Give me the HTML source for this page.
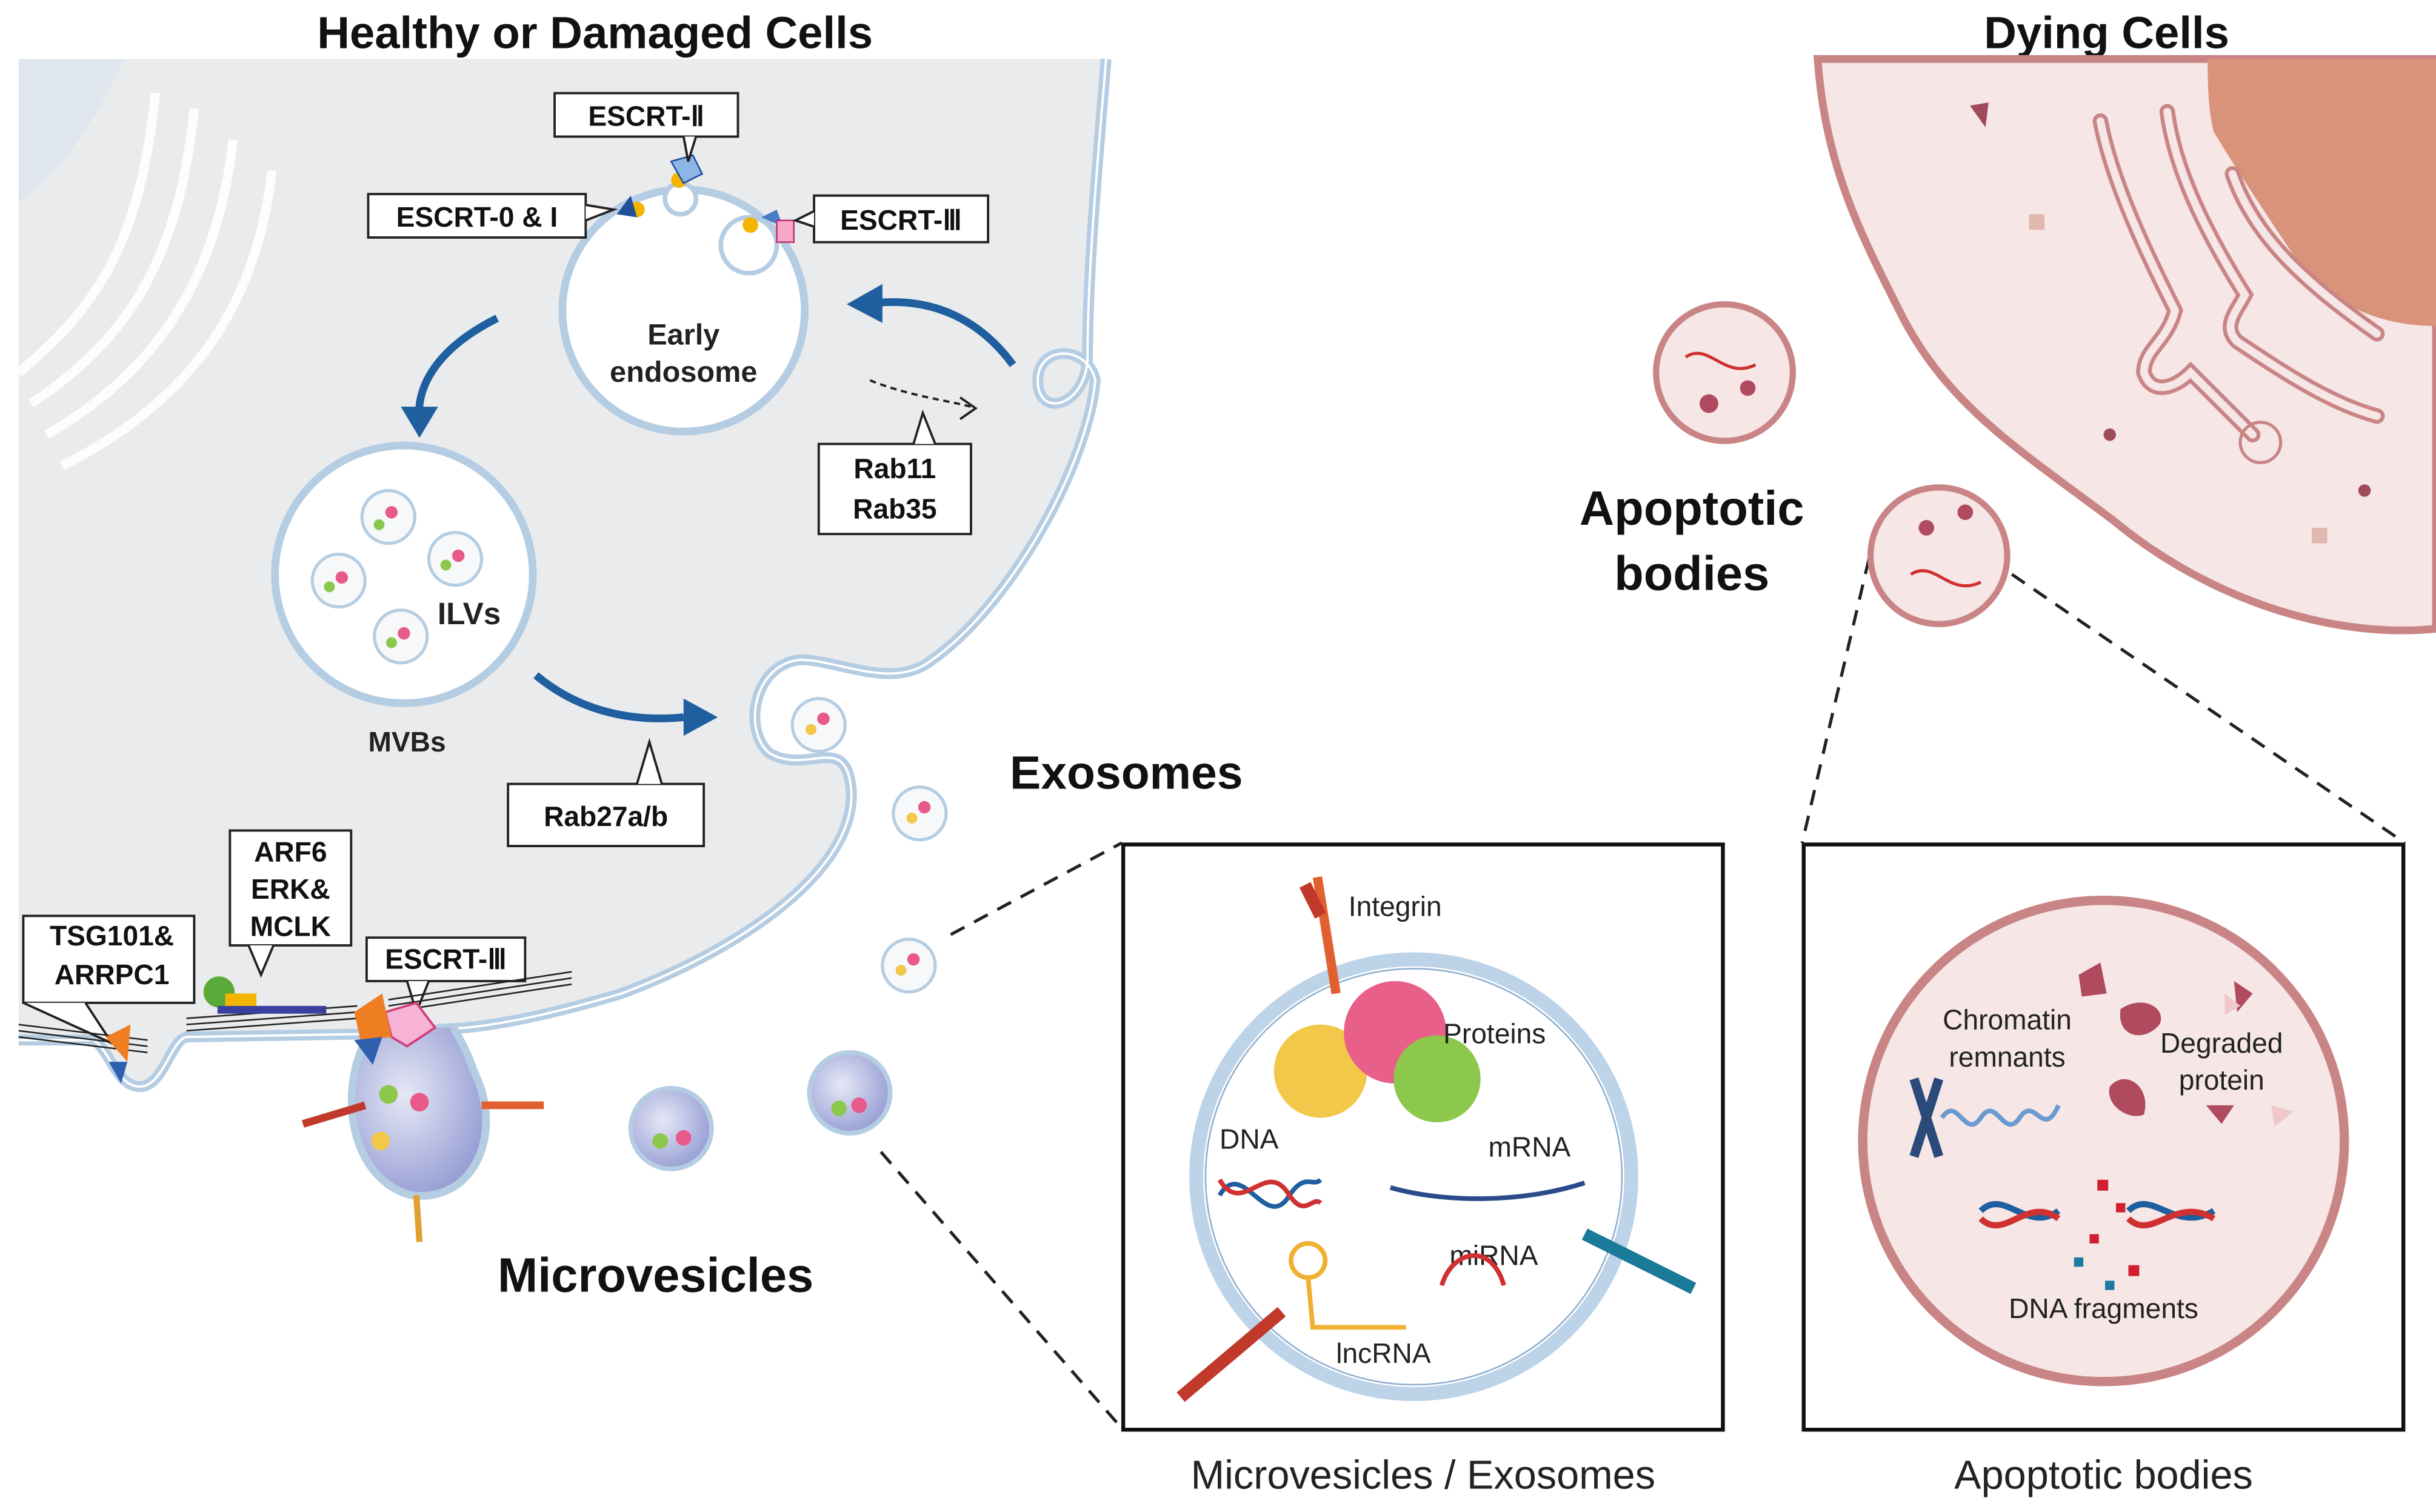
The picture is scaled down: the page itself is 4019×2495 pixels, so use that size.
<!DOCTYPE html>
<html><head><meta charset="utf-8"><style>
html,body{margin:0;padding:0;background:#fff;}
svg{display:block;}
text{font-family:"Liberation Sans",Arial,sans-serif;}
</style></head><body>
<svg width="4019" height="2495" viewBox="0 0 1568 974" preserveAspectRatio="none" xmlns="http://www.w3.org/2000/svg">
<defs>
<radialGradient id="mv" cx="0.4" cy="0.4" r="0.7"><stop offset="0" stop-color="#e6e8f6"/><stop offset="1" stop-color="#8e96d0"/></radialGradient>
</defs>
<rect width="1568" height="974" fill="#fff"/>
<!-- titles -->
<text x="383" y="31" font-size="29" font-weight="bold" text-anchor="middle" fill="#111">Healthy or Damaged Cells</text>
<text x="1356" y="31" font-size="29" font-weight="bold" text-anchor="middle" fill="#111">Dying Cells</text>

<!-- left cell -->
<path d="M12,38 L712,38 C705,120 700,180 700,232 C698,262 668,270 668,245 C668,222 700,222 705,245 C700,300 650,390 600,425 C575,445 540,425 515,425 C485,428 478,470 495,485 C520,500 545,470 548,510 C550,560 480,610 400,640 C350,655 320,660 300,662 L240,666 L120,668 C110,670 105,700 90,700 C75,700 70,675 60,670 L12,670 Z" fill="#eaebec"/>
<path d="M712,38 C705,120 700,180 700,232 C698,262 668,270 668,245 C668,222 700,222 705,245 C700,300 650,390 600,425 C575,445 540,425 515,425 C485,428 478,470 495,485 C520,500 545,470 548,510 C550,560 480,610 400,640 C350,655 320,660 300,662 L240,666 L120,668 C110,670 105,700 90,700 C75,700 70,675 60,670 L12,670" fill="none" stroke="#b5cde2" stroke-width="7"/>
<path d="M712,38 C705,120 700,180 700,232 C698,262 668,270 668,245 C668,222 700,222 705,245 C700,300 650,390 600,425 C575,445 540,425 515,425 C485,428 478,470 495,485 C520,500 545,470 548,510 C550,560 480,610 400,640 C350,655 320,660 300,662 L240,666 L120,668 C110,670 105,700 90,700 C75,700 70,675 60,670 L12,670" fill="none" stroke="#fff" stroke-width="1.5"/>
<!-- golgi-ish -->
<g fill="none" stroke="#fff" stroke-width="6" opacity="0.9">
<path d="M12,240 C60,200 90,160 100,60"/>
<path d="M20,260 C80,220 115,170 125,70"/>
<path d="M30,280 C100,240 140,180 150,90"/>
<path d="M40,300 C120,260 165,200 175,110"/>
</g>
<path d="M12,38 L80,38 C60,80 40,110 12,130 Z" fill="#dfe6ee"/>

<!-- early endosome -->
<circle cx="440" cy="200" r="78" fill="#fff" stroke="#b5cde2" stroke-width="5"/>
<circle cx="482" cy="158" r="18" fill="#fff" stroke="#b5cde2" stroke-width="3"/>
<circle cx="438" cy="128" r="10" fill="#fff" stroke="#b5cde2" stroke-width="3"/>
<circle cx="410" cy="135" r="5" fill="#f4b400"/>
<path d="M397,138 L406,126 L410,140 Z" fill="#1f4e9a"/>
<circle cx="437" cy="116" r="5" fill="#f4b400"/>
<path d="M432,104 L446,100 L452,112 L440,118 Z" fill="#8bb6e6" stroke="#1f4e9a" stroke-width="1"/>
<circle cx="483" cy="145" r="5" fill="#f4b400"/>
<path d="M490,140 L500,135 L504,146 Z" fill="#4b7cc8"/>
<rect x="500" y="142" width="11" height="14" fill="#f6a8c8" stroke="#c43070" stroke-width="1"/>
<text x="440" y="222" font-size="19" font-weight="bold" text-anchor="middle" fill="#222">Early</text>
<text x="440" y="246" font-size="19" font-weight="bold" text-anchor="middle" fill="#222">endosome</text>

<!-- callout boxes -->
<g font-size="18" font-weight="bold" fill="#111">
<rect x="357" y="60" width="118" height="28" fill="#fff" stroke="#222" stroke-width="1.5"/>
<text x="416" y="81" text-anchor="middle">ESCRT-Ⅱ</text>
<path d="M440,88 L443,104 L448,88" fill="#fff" stroke="#222" stroke-width="1.5"/>
<rect x="237" y="125" width="140" height="28" fill="#fff" stroke="#222" stroke-width="1.5"/>
<text x="307" y="146" text-anchor="middle">ESCRT-0 &amp; I</text>
<path d="M377,132 L395,135 L377,142" fill="#fff" stroke="#222" stroke-width="1.5"/>
<rect x="524" y="126" width="112" height="30" fill="#fff" stroke="#222" stroke-width="1.5"/>
<text x="580" y="148" text-anchor="middle">ESCRT-Ⅲ</text>
<path d="M524,136 L512,142 L524,146" fill="#fff" stroke="#222" stroke-width="1.5"/>
<rect x="527" y="286" width="98" height="58" fill="#fff" stroke="#222" stroke-width="1.5"/>
<text x="576" y="308" text-anchor="middle">Rab11</text>
<text x="576" y="334" text-anchor="middle">Rab35</text>
<path d="M588,286 L594,266 L602,286" fill="#fff" stroke="#222" stroke-width="1.5"/>
<rect x="327" y="505" width="126" height="40" fill="#fff" stroke="#222" stroke-width="1.5"/>
<text x="390" y="532" text-anchor="middle">Rab27a/b</text>
<path d="M410,505 L418,478 L426,505" fill="#fff" stroke="#222" stroke-width="1.5"/>
<rect x="148" y="535" width="78" height="74" fill="#fff" stroke="#222" stroke-width="1.5"/>
<text x="187" y="555" text-anchor="middle">ARF6</text>
<text x="187" y="579" text-anchor="middle">ERK&amp;</text>
<text x="187" y="603" text-anchor="middle">MCLK</text>
<path d="M160,609 L168,628 L176,609" fill="#fff" stroke="#222" stroke-width="1.5"/>
<rect x="15" y="590" width="110" height="56" fill="#fff" stroke="#222" stroke-width="1.5"/>
<text x="72" y="609" text-anchor="middle">TSG101&amp;</text>
<text x="72" y="634" text-anchor="middle">ARRPC1</text>
<path d="M15,646 L72,672 L55,646" fill="#fff" stroke="#222" stroke-width="1.5"/>
<rect x="236" y="604" width="102" height="28" fill="#fff" stroke="#222" stroke-width="1.5"/>
<text x="287" y="624" text-anchor="middle">ESCRT-Ⅲ</text>
<path d="M262,632 L268,652 L276,632" fill="#fff" stroke="#222" stroke-width="1.5"/>
</g>

<!-- arrows -->
<path d="M320,205 C280,225 268,250 270,270" fill="none" stroke="#1f5fa0" stroke-width="5"/>
<path d="M258,262 L282,262 L270,282 Z" fill="#1f5fa0"/>
<path d="M652,235 C630,205 600,192 565,195" fill="none" stroke="#1f5fa0" stroke-width="5"/>
<path d="M568,183 L545,196 L568,208 Z" fill="#1f5fa0"/>
<path d="M345,435 C375,460 410,465 440,462" fill="none" stroke="#1f5fa0" stroke-width="5"/>
<path d="M440,450 L462,462 L440,474 Z" fill="#1f5fa0"/>
<path d="M560,245 C585,255 610,258 625,262" fill="none" stroke="#222" stroke-width="1.5" stroke-dasharray="4,3"/>
<path d="M618,256 L628,263 L618,270" fill="none" stroke="#222" stroke-width="1.5"/>

<!-- MVB -->
<circle cx="260" cy="370" r="83" fill="#fff" stroke="#b5cde2" stroke-width="5"/>
<g fill="#f6f8fa" stroke="#b5cde2" stroke-width="2">
<circle cx="250" cy="333" r="17"/><circle cx="218" cy="374" r="17"/><circle cx="293" cy="360" r="17"/><circle cx="258" cy="410" r="17"/>
</g>
<g fill="#e85a8a"><circle cx="252" cy="330" r="4"/><circle cx="220" cy="372" r="4"/><circle cx="295" cy="358" r="4"/><circle cx="260" cy="408" r="4"/></g>
<g fill="#8cc84b"><circle cx="244" cy="338" r="3.5"/><circle cx="212" cy="378" r="3.5"/><circle cx="287" cy="364" r="3.5"/><circle cx="252" cy="414" r="3.5"/></g>
<text x="302" y="402" font-size="20" font-weight="bold" text-anchor="middle" fill="#222">ILVs</text>
<text x="262" y="484" font-size="18" font-weight="bold" text-anchor="middle" fill="#222">MVBs</text>

<!-- exosomes -->
<g stroke="#b5cde2" stroke-width="2" fill="#f6f8fa">
<circle cx="527" cy="467" r="17"/><circle cx="592" cy="524" r="17"/><circle cx="585" cy="622" r="17"/>
</g>
<g fill="#e85a8a"><circle cx="530" cy="463" r="4"/><circle cx="595" cy="520" r="4"/><circle cx="588" cy="618" r="4"/></g>
<g fill="#f2c84b"><circle cx="522" cy="470" r="3.5"/><circle cx="587" cy="527" r="3.5"/><circle cx="580" cy="625" r="3.5"/></g>
<text x="725" y="508" font-size="30" font-weight="bold" text-anchor="middle" fill="#111">Exosomes</text>

<!-- membrane hatch -->
<g stroke="#222" stroke-width="1">
<path d="M12,660 L95,670 M12,664 L95,674 M12,668 L95,678"/>
<path d="M120,656 L230,648 M120,660 L230,652 M120,664 L230,656"/>
<path d="M250,644 L368,626 M250,648 L368,630 M250,652 L368,634"/>
</g>
<!-- MV bud -->
<path d="M240,662 C215,700 225,760 265,770 C305,775 325,730 305,690 C300,675 295,668 292,662" fill="url(#mv)" stroke="#b5cde2" stroke-width="5"/>
<path d="M248,652 L268,646 L280,662 L262,674 L252,668 Z" fill="#f6b3d6" stroke="#d0407a" stroke-width="1.5"/>
<path d="M228,652 L246,640 L252,668 L232,670 Z" fill="#ef7d22"/>
<path d="M228,670 L246,668 L240,686 Z" fill="#2f5fae"/>
<path d="M68,668 L84,660 L82,684 Z" fill="#ef7d22"/><path d="M70,684 L82,684 L78,698 Z" fill="#2f5fae"/>
<circle cx="141" cy="639" r="10" fill="#5aaa3a"/>
<rect x="145" y="640" width="20" height="10" fill="#f4b400"/>
<rect x="140" y="648" width="70" height="5" fill="#3a3fa0"/>
<circle cx="270" cy="710" r="6" fill="#e85a8a"/><circle cx="250" cy="705" r="6" fill="#8cc84b"/><circle cx="245" cy="735" r="6" fill="#f2c84b"/>
<path d="M195,724 L235,712" stroke="#c0392b" stroke-width="5"/>
<path d="M310,712 L350,712" stroke="#e06030" stroke-width="5"/>
<path d="M268,770 L270,800" stroke="#e0a030" stroke-width="4"/>

<!-- microvesicles -->
<circle cx="432" cy="727" r="26" fill="url(#mv)" stroke="#b5cde2" stroke-width="3"/>
<circle cx="547" cy="704" r="26" fill="url(#mv)" stroke="#b5cde2" stroke-width="3"/>
<circle cx="440" cy="733" r="5" fill="#e85a8a"/><circle cx="425" cy="735" r="5" fill="#8cc84b"/>
<circle cx="553" cy="712" r="5" fill="#e85a8a"/><circle cx="540" cy="714" r="5" fill="#8cc84b"/>
<text x="422" y="832" font-size="31" font-weight="bold" text-anchor="middle" fill="#111">Microvesicles</text>

<!-- dashed connectors -->
<g stroke="#222" stroke-width="2" stroke-dasharray="10,7" fill="none">
<path d="M612,602 L722,543"/>
<path d="M567,742 L722,920"/>
<path d="M1203,360 L1160,543"/>
<path d="M1295,370 L1548,543"/>
</g>

<!-- dying cell -->
<path d="M1170,38 L1568,38 L1568,405 C1500,412 1420,385 1360,335 C1300,290 1255,262 1225,205 C1200,155 1175,110 1170,38 Z" fill="#f6e6e6" stroke="#c98585" stroke-width="5"/>
<path d="M1421,38 L1568,38 L1568,210 C1530,210 1500,195 1480,170 C1460,140 1440,110 1425,85 C1421,70 1421,50 1421,38 Z" fill="#d9937a"/>
<g fill="none" stroke-linecap="round">
<g stroke="#c98585" stroke-width="10">
<path d="M1352,78 C1360,120 1385,170 1400,200 C1395,220 1380,225 1380,240 C1385,255 1400,250 1410,240 C1430,260 1440,270 1450,280"/>
<path d="M1395,72 C1400,110 1420,150 1445,190 C1440,200 1430,210 1440,220 C1470,240 1500,260 1530,268"/>
<path d="M1437,112 C1450,150 1480,180 1530,215"/>
</g>
<g stroke="#f6e6e6" stroke-width="5">
<path d="M1352,78 C1360,120 1385,170 1400,200 C1395,220 1380,225 1380,240 C1385,255 1400,250 1410,240 C1430,260 1440,270 1450,280"/>
<path d="M1395,72 C1400,110 1420,150 1445,190 C1440,200 1430,210 1440,220 C1470,240 1500,260 1530,268"/>
<path d="M1437,112 C1450,150 1480,180 1530,215"/>
</g>
</g>
<circle cx="1455" cy="285" r="13" fill="none" stroke="#c98585" stroke-width="2"/>
<path d="M1268,68 L1280,66 L1278,82 Z" fill="#a04a5a"/>
<rect x="1306" y="138" width="10" height="10" fill="#e0b8b0"/>
<rect x="1488" y="340" width="10" height="10" fill="#e0b8b0"/>
<circle cx="1358" cy="280" r="4" fill="#a04a5a"/><circle cx="1522" cy="316" r="4" fill="#a04a5a"/>

<circle cx="1110" cy="240" r="44" fill="#f6e6e6" stroke="#c98585" stroke-width="4"/>
<circle cx="1248" cy="358" r="44" fill="#f6e6e6" stroke="#c98585" stroke-width="4"/>
<g fill="#b04a5e"><circle cx="1100" cy="260" r="6"/><circle cx="1125" cy="250" r="5"/><circle cx="1240" cy="340" r="5"/><circle cx="1265" cy="330" r="5"/></g>
<path d="M1085,230 C1100,220 1110,245 1130,235" stroke="#d03030" stroke-width="2" fill="none"/>
<path d="M1230,370 C1245,360 1255,385 1275,375" stroke="#d03030" stroke-width="2" fill="none"/>
<text x="1089" y="338" font-size="31" font-weight="bold" text-anchor="middle" fill="#111">Apoptotic</text>
<text x="1089" y="380" font-size="31" font-weight="bold" text-anchor="middle" fill="#111">bodies</text>

<!-- MV/Exo box -->
<rect x="723" y="544" width="386" height="377" fill="#fff" stroke="#111" stroke-width="2.5"/>
<circle cx="910" cy="758" r="140" fill="#fff" stroke="#bcd3e8" stroke-width="9"/>
<circle cx="910" cy="758" r="134" fill="none" stroke="#8fb0d0" stroke-width="1"/>
<circle cx="850" cy="690" r="30" fill="#f2c84b"/>
<circle cx="898" cy="665" r="33" fill="#e8608a"/>
<circle cx="925" cy="695" r="28" fill="#8cc84b"/>
<path d="M848,565 L860,640" stroke="#e06030" stroke-width="6"/>
<path d="M840,570 L850,590" stroke="#c0392b" stroke-width="8"/>
<text x="868" y="590" font-size="18" fill="#222">Integrin</text>
<text x="929" y="672" font-size="18" fill="#222">Proteins</text>
<text x="785" y="740" font-size="18" fill="#222">DNA</text>
<path d="M785,770 C800,745 815,795 830,770 C840,755 845,765 850,760" stroke="#1f5fa0" stroke-width="3" fill="none"/>
<path d="M785,760 C800,785 815,745 830,770 C840,785 845,770 850,775" stroke="#d03030" stroke-width="3" fill="none"/>
<text x="958" y="745" font-size="18" fill="#222">mRNA</text>
<path d="M895,765 C930,775 980,775 1020,762" stroke="#2a4a8a" stroke-width="3" fill="none"/>
<text x="933" y="815" font-size="18" fill="#222">miRNA</text>
<path d="M928,828 C935,805 960,800 968,828" stroke="#d03030" stroke-width="3" fill="none"/>
<circle cx="842" cy="812" r="11" fill="none" stroke="#f0b030" stroke-width="3"/>
<path d="M842,823 L845,855 L905,855" stroke="#f0b030" stroke-width="3" fill="none"/>
<text x="860" y="878" font-size="18" fill="#222">lncRNA</text>
<path d="M760,900 L825,845" stroke="#c0392b" stroke-width="8"/>
<path d="M1020,795 L1090,830" stroke="#1a7a9a" stroke-width="8"/>
<text x="916" y="959" font-size="26" text-anchor="middle" fill="#222">Microvesicles / Exosomes</text>

<!-- Apoptotic box -->
<rect x="1161" y="544" width="386" height="377" fill="#fff" stroke="#111" stroke-width="2.5"/>
<circle cx="1354" cy="735" r="155" fill="#f6e6e6" stroke="#c98585" stroke-width="6"/>
<g fill="#b04a5e">
<path d="M1338,628 L1352,620 L1356,640 L1340,642 Z"/>
<path d="M1365,650 C1380,640 1395,650 1390,660 C1380,672 1362,668 1365,650 Z"/>
<path d="M1438,632 L1450,640 L1440,652 Z"/>
<path d="M1358,700 C1368,688 1385,700 1380,718 C1370,722 1355,712 1358,700 Z"/>
<path d="M1420,712 L1438,712 L1430,724 Z"/>
</g>
<path d="M1462,712 L1476,716 L1464,726 Z" fill="#f0c8cc"/>
<path d="M1432,640 L1442,648 L1432,654 Z" fill="#f0c8cc"/>
<text x="1292" y="663" font-size="18" text-anchor="middle" fill="#222">Chromatin</text>
<text x="1292" y="687" font-size="18" text-anchor="middle" fill="#222">remnants</text>
<text x="1430" y="678" font-size="18" text-anchor="middle" fill="#222">Degraded</text>
<text x="1430" y="702" font-size="18" text-anchor="middle" fill="#222">protein</text>
<path d="M1232,695 L1248,745 M1248,695 L1232,745" stroke="#2a4a7a" stroke-width="6"/>
<path d="M1250,720 C1260,705 1265,735 1275,720 C1285,705 1290,735 1300,720 C1310,705 1315,735 1325,712" stroke="#6a9ad0" stroke-width="3" fill="none"/>
<path d="M1275,780 C1290,765 1305,795 1325,780" stroke="#1f5fa0" stroke-width="4" fill="none"/>
<path d="M1275,785 C1290,800 1305,770 1325,785" stroke="#d03030" stroke-width="4" fill="none"/>
<path d="M1370,780 C1385,765 1400,795 1425,780" stroke="#1f5fa0" stroke-width="4" fill="none"/>
<path d="M1370,785 C1385,800 1400,770 1425,785" stroke="#d03030" stroke-width="4" fill="none"/>
<g fill="#d02030"><rect x="1350" y="760" width="7" height="7"/><rect x="1362" y="775" width="6" height="6"/><rect x="1345" y="795" width="6" height="6"/><rect x="1370" y="815" width="7" height="7"/></g>
<g fill="#1a7aa0"><rect x="1335" y="810" width="6" height="6"/><rect x="1355" y="825" width="6" height="6"/></g>
<text x="1354" y="849" font-size="18" text-anchor="middle" fill="#222">DNA fragments</text>
<text x="1354" y="959" font-size="26" text-anchor="middle" fill="#222">Apoptotic bodies</text>
</svg>
</body></html>
